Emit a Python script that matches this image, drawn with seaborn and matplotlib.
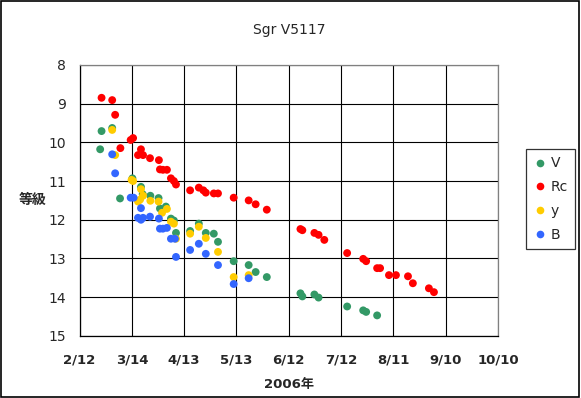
import matplotlib
matplotlib.use("Agg")
import matplotlib.pyplot as plt
import matplotlib.patches as patches
import pandas as pd
import seaborn as sns

# days after 2006-02-12, magnitude
v_days = [11.8, 12.6, 18.7, 23.2, 30.3, 35.2, 36.2, 40.6, 45.3, 46.1, 49.5, 52.4, 54.1, 55.3,
          63.4, 68.4, 72.4, 77.0, 79.4, 88.4, 97.0, 101.0, 107.4, 126.7, 127.8, 134.7, 137.1,
          153.5, 162.7, 164.4, 170.7]
v_mag = [10.18, 9.71, 9.63, 11.45, 10.93, 11.15, 11.34, 11.38, 11.44, 11.71, 11.66, 11.97, 12.02, 12.34,
         12.29, 12.10, 12.34, 12.36, 12.57, 13.07, 13.17, 13.35, 13.48, 13.90, 13.98, 13.93, 14.01,
         14.24, 14.34, 14.38, 14.47]

rc_days = [12.6, 18.7, 20.4, 23.4, 29.3, 30.7, 33.5, 35.2, 36.4, 40.4, 45.5, 46.1, 47.8, 50.1,
           52.4, 54.1, 55.3, 63.4, 68.4, 71.0, 72.4, 77.0, 79.4, 88.4, 97.0, 101.0, 107.4,
           126.7, 127.8, 134.7, 137.1, 140.4, 153.5, 162.7, 164.4, 170.7, 172.4, 177.5, 181.5,
           188.4, 191.2, 200.4, 203.3]
rc_mag = [8.85, 8.91, 9.29, 10.15, 9.94, 9.89, 10.33, 10.18, 10.33, 10.41, 10.46, 10.70, 10.71, 10.71,
          10.93, 11.00, 11.09, 11.24, 11.17, 11.24, 11.30, 11.32, 11.32, 11.43, 11.50, 11.60, 11.74,
          12.24, 12.27, 12.34, 12.39, 12.52, 12.86, 13.01, 13.07, 13.25, 13.25, 13.43, 13.43,
          13.46, 13.64, 13.77, 13.87]

y_days = [18.7, 20.4, 29.8, 30.7, 35.2, 36.4, 33.5, 34.7, 40.6, 45.3, 47.3, 50.1, 52.4, 54.1,
          55.3, 63.4, 68.4, 72.4, 79.4, 88.4, 97.0]
y_mag = [9.68, 10.33, 10.97, 11.00, 11.21, 11.38, 11.53, 11.48, 11.51, 11.53, 11.82, 11.72, 12.05, 12.10,
         12.49, 12.36, 12.18, 12.47, 12.83, 13.48, 13.43]

b_days = [18.7, 20.4, 29.3, 31.0, 35.2, 33.5, 35.2, 36.4, 40.4, 45.5, 46.1, 47.8, 50.1, 52.4,
          54.7, 55.3, 63.4, 68.4, 72.4, 79.4, 88.4, 97.0]
b_mag = [10.31, 10.80, 11.43, 11.43, 11.70, 11.95, 12.00, 11.95, 11.92, 11.97, 12.23, 12.23, 12.21, 12.49,
         12.49, 12.96, 12.78, 12.62, 12.88, 13.17, 13.66, 13.51]

tick_labels = ["2/12", "3/14", "4/13", "5/13", "6/12", "7/12", "8/11", "9/10", "10/10"]
bands = ["V", "Rc", "y", "B"]
colors = ["#339966", "#FF0000", "#FFCC00", "#3366FF"]

start = pd.Timestamp("2006-02-12")
frames = []
for band, days, mags in [("V", v_days, v_mag), ("Rc", rc_days, rc_mag),
                         ("y", y_days, y_mag), ("B", b_days, b_mag)]:
    frames.append(pd.DataFrame({"date": start + pd.to_timedelta(days, unit="D"),
                                "mag": mags, "band": band}))
df = pd.concat(frames, ignore_index=True)

sns.set_style("white")
plt.rcParams["font.family"] = ["DejaVu Sans", "Noto Sans CJK JP"]

fig = plt.figure(figsize=(5.81, 3.98), dpi=100)
ax = fig.add_axes([0.137, 0.156, 0.72, 0.681])

sns.scatterplot(data=df, x="date", y="mag", hue="band", hue_order=bands,
                palette=colors, s=32, linewidth=0, ax=ax, legend=False, zorder=3)

tick_pos = [start + pd.Timedelta(days=30 * i) for i in range(len(tick_labels))]
ax.set_xlim(tick_pos[0], tick_pos[-1])
ax.set_xticks(tick_pos)
ax.set_xticklabels(tick_labels, fontsize=9.5, fontweight="bold")
ax.set_ylim(15, 8)
ax.set_yticks(range(8, 16))
ax.set_yticklabels([str(v) for v in range(8, 16)], fontsize=10)
ax.tick_params(length=0)
ax.tick_params(axis="x", pad=13)
ax.tick_params(axis="y", pad=10)
ax.grid(True, color="black", linewidth=0.8)
ax.set_axisbelow(True)
for side in ["left", "bottom"]:
    ax.spines[side].set_color("black")
for side in ["top", "right"]:
    ax.spines[side].set_color("#808080")
for sp in ax.spines.values():
    sp.set_linewidth(0.9)

ax.set_xlabel("2006年", fontsize=9.5, fontweight="bold",
              family=["DejaVu Sans", "Noto Sans CJK JP"])
ax.xaxis.set_label_coords(0.5, -0.155)
ax.set_ylabel("等級", fontsize=10, fontweight="bold", rotation=0,
              family=["Noto Sans CJK JP"], va="center", ha="center")
ax.yaxis.set_label_coords(-0.113, 0.5)

fig.text(0.498, 0.925, "Sgr V5117", ha="center", va="center", fontsize=10)

handles = [plt.Line2D([], [], marker="o", linestyle="", color=c, markersize=5.5,
                      markeredgewidth=0) for c in colors]
leg = fig.legend(handles, bands, loc="center", bbox_to_anchor=(0.9475, 0.5),
                 frameon=True, fancybox=False, fontsize=10, handletextpad=0.3,
                 handlelength=1.0, borderpad=0.5, labelspacing=0.7)
leg.get_frame().set_edgecolor("black")
leg.get_frame().set_linewidth(0.9)

fig.patches.append(patches.Rectangle((0.001, 0.002), 0.996, 0.995, transform=fig.transFigure,
                                     fill=False, edgecolor="black", linewidth=1.2))

fig.savefig("out.png", dpi=100)
